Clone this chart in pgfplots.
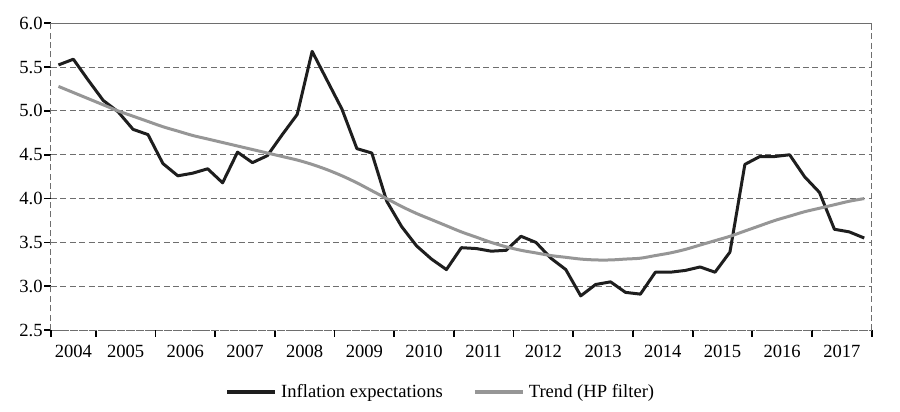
\documentclass[border=0pt]{standalone}
\usepackage{pgfplots}
\pgfplotsset{compat=1.18}
\usepackage{fontspec}
\setmainfont{Liberation Serif}
\definecolor{gridgray}{RGB}{110,110,110}
\definecolor{trendgray}{RGB}{150,150,150}
\definecolor{infl}{RGB}{30,30,30}
\pgfplotstableread{
i infl trend
0 5.525 5.28
1 5.59 5.21
2 5.35 5.14
3 5.12 5.07
4 4.99 5.00
5 4.79 4.94
6 4.73 4.88
7 4.40 4.82
8 4.26 4.77
9 4.29 4.72
10 4.34 4.68
11 4.18 4.64
12 4.53 4.60
13 4.41 4.56
14 4.49 4.52
15 4.73 4.48
16 4.96 4.44
17 5.68 4.39
18 5.35 4.33
19 5.02 4.26
20 4.57 4.18
21 4.52 4.09
22 3.97 4.00
23 3.68 3.91
24 3.46 3.83
25 3.31 3.76
26 3.19 3.69
27 3.44 3.62
28 3.43 3.56
29 3.40 3.50
30 3.41 3.45
31 3.57 3.41
32 3.50 3.38
33 3.32 3.35
34 3.19 3.33
35 2.89 3.31
36 3.02 3.30
37 3.05 3.30
38 2.93 3.31
39 2.91 3.32
40 3.16 3.35
41 3.16 3.38
42 3.18 3.42
43 3.22 3.47
44 3.16 3.52
45 3.39 3.57
46 4.39 3.63
47 4.48 3.69
48 4.48 3.75
49 4.50 3.80
50 4.25 3.85
51 4.07 3.89
52 3.65 3.93
53 3.62 3.97
54 3.55 4.00
}\datatable
\begin{document}
\fontsize{9.3}{11}\selectfont
\begin{tikzpicture}
\begin{axis}[name=ax,
  scale only axis, width=410.4pt, height=153.4pt,
  xmin=-0.5, xmax=54.5, ymin=2.5, ymax=6.0,
  ytick={2.5,3.0,3.5,4.0,4.5,5.0,5.5,6.0},
  yticklabel style={inner sep=0.6pt, /pgf/number format/fixed, /pgf/number format/fixed zerofill, /pgf/number format/precision=1, /pgf/number format/assume math mode=true},
  xtick={-0.5,2.5,6.5,10.5,14.5,18.5,22.5,26.5,30.5,34.5,38.5,42.5,46.5,50.5,54.5},
  xticklabels={},
  extra x ticks={1,4.5,8.5,12.5,16.5,20.5,24.5,28.5,32.5,36.5,40.5,44.5,48.5,52.5},
  extra x tick labels={2004,2005,2006,2007,2008,2009,2010,2011,2012,2013,2014,2015,2016,2017},
  extra x tick style={major tick length=0pt, grid=none, tick label style={yshift=-4pt}},
  tick label style={font=\fontsize{9.3}{11}\selectfont},
  tick align=outside, xtick pos=bottom, ytick pos=left,
  major tick length=3.4pt,
  tick style={black, solid, line width=0.9pt},
  axis line style={gridgray, dash pattern=on 3pt off 1.7pt, line width=0.5pt},
  ymajorgrids,
  grid style={gridgray, dash pattern=on 3pt off 1.7pt, line width=0.5pt},
  legend columns=2,
  legend style={at={(0.476,-0.202)}, anchor=center, draw=none, fill=none,
    font=\fontsize{9.3}{11}\selectfont,
    /tikz/every even column/.append style={column sep=13pt}},
  legend image code/.code={\draw[#1, line width=2pt] (0pt,0pt) -- (24pt,0pt);},
]
\addplot[infl, line width=1.5pt, line join=round] table[x=i, y=infl] {\datatable};
\addlegendentry{Inflation expectations}
\addplot[trendgray, line width=1.5pt, smooth] table[x=i, y=trend] {\datatable};
\addlegendentry{Trend (HP filter)}
\end{axis}
\path ([xshift=-25.5pt, yshift=-40.5pt]ax.south west) rectangle ([xshift=14.15pt, yshift=11.65pt]ax.north east);
\end{tikzpicture}
\end{document}
